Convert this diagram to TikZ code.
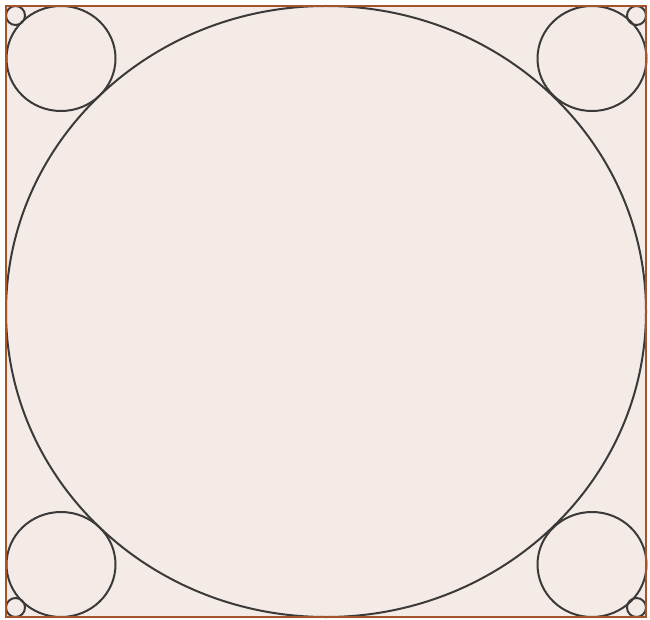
\documentclass[tikz,border=0pt]{standalone}
\usepackage{xcolor}
\definecolor{paper}{HTML}{F4EBE7}
\definecolor{frame}{HTML}{A5532B}
\definecolor{ink}{HTML}{3A3A3A}
\begin{document}
\begin{tikzpicture}[x=1pt, y=-1pt, every path/.style={line width=2pt}]
  \useasboundingbox (0,0) rectangle (650,620);

  \coordinate (NW) at (6,6);
  \coordinate (SE) at (646,617);
  \coordinate (M) at (326,311.5);

  \fill[paper] (NW) rectangle (SE);

  % big inscribed ellipse
  \draw[ink] (M) ellipse [x radius=320, y radius=305.5];

  % corner ellipses
  \foreach \cx/\cy in {61/58.5, 592/58.5, 61/564.5, 592/564.5}
    \draw[ink] (\cx,\cy) ellipse [x radius=54.5, y radius=52.5];

  % small corner circles
  \foreach \cx/\cy in {15.5/15.5, 636.5/15.5, 15.5/607.5, 636.5/607.5}
    \draw[ink] (\cx,\cy) circle (9.5);

  \draw[frame, line width=2pt] (NW) rectangle (SE);
\end{tikzpicture}
\end{document}
